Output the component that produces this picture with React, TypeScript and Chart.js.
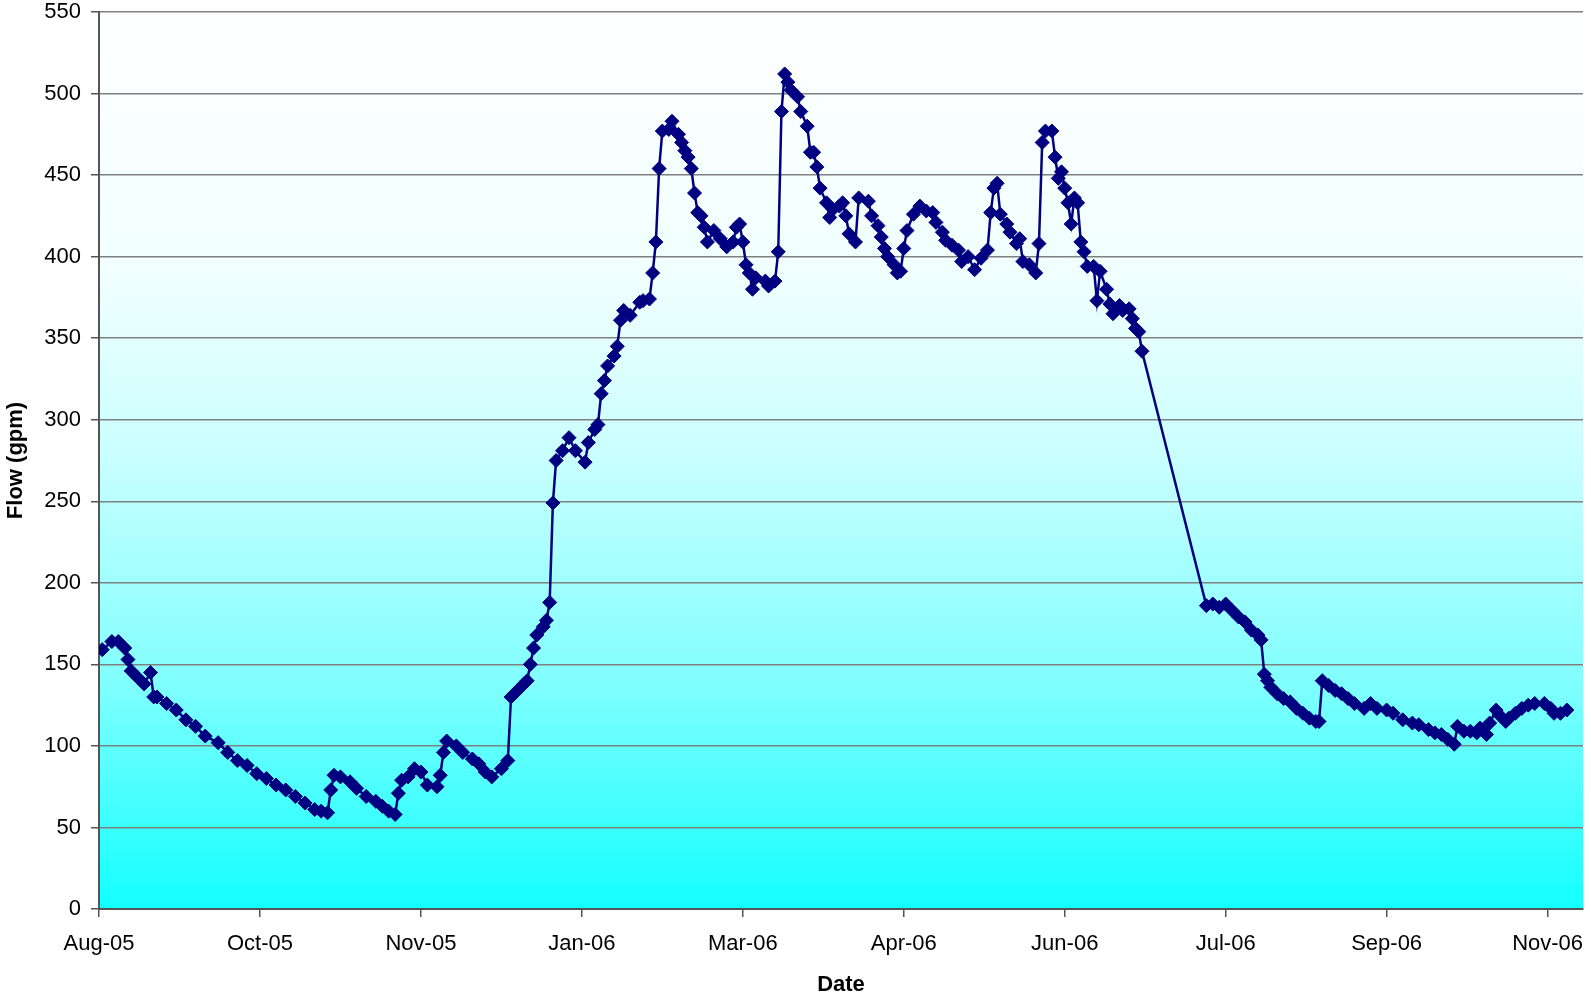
import React, { useEffect, useRef } from "react";
import { Chart, registerables } from "chart.js";

Chart.register(...registerables);

// Day offsets counted from 14-Aug-2005 (the left edge of the date axis)
const days: number[] = [
  1, 4, 6, 8, 9, 10, 12, 14, 16, 17, 18, 21, 24, 27, 30, 33, 37, 40, 43, 46,
  49, 52, 55, 58, 61, 64, 67, 69, 71, 72, 73, 75, 78, 80, 83, 86, 88, 90, 92, 93,
  94, 96, 98, 100, 102, 105, 106, 107, 108, 111, 113, 116, 118, 120, 122, 125, 127, 128, 130, 132,
  133, 134, 135, 136, 138, 139, 140, 141, 142, 144, 146, 148, 151, 152, 154, 155, 156, 157, 158, 160,
  161, 162, 163, 165, 168, 169, 171, 172, 173, 174, 175, 177, 178, 180, 181, 182, 183, 184, 185, 186,
  187, 188, 189, 191, 193, 195, 197, 198, 199, 200, 201, 202, 203, 204, 207, 208, 210, 211, 212, 213,
  214, 215, 217, 218, 220, 221, 222, 223, 224, 226, 227, 228, 230, 231, 232, 233, 235, 236, 239, 240,
  242, 243, 244, 245, 247, 248, 249, 250, 251, 253, 255, 257, 259, 260, 262, 263, 265, 267, 268, 270,
  272, 274, 276, 277, 278, 279, 280, 282, 283, 285, 286, 287, 289, 291, 292, 293, 294, 296, 297, 298,
  299, 300, 301, 302, 303, 304, 305, 306, 307, 309, 310, 311, 313, 314, 315, 317, 318, 320, 321, 322,
  323, 324, 344, 346, 348, 350, 352, 354, 356, 358, 360, 361, 362, 363, 364, 366, 368, 370, 372, 374,
  376, 378, 379, 380, 382, 384, 386, 388, 390, 393, 395, 397, 400, 402, 405, 408, 410, 413, 415, 417,
  419, 421, 422, 424, 426, 428, 429, 431, 432, 434, 435, 437, 438, 440, 442, 444, 446, 449, 451, 452,
  454, 456,
];

// Flow in gpm, one value per entry of `days`
const flow: number[] = [
  159, 164, 164, 160, 153, 146, 142, 138, 145, 130, 130, 126, 122, 116, 112, 106, 102, 96, 91, 88,
  83, 80, 76, 73, 69, 65, 61, 60, 59, 73, 82, 81, 78, 74, 69, 66, 63, 60, 58, 71,
  79, 81, 86, 84, 76, 75, 82, 96, 103, 100, 96, 92, 89, 84, 81, 86, 91, 130, 134, 138,
  140, 150, 160, 168, 173, 177, 188, 249, 275, 281, 289, 281, 274, 286, 294, 297, 316, 324, 333, 339,
  345, 361, 367, 364, 372, 373, 374, 390, 409, 454, 477, 478, 483, 475, 470, 465, 461, 454, 439, 427,
  425, 418, 409, 416, 411, 406, 409, 418, 420, 409, 395, 390, 380, 387, 385, 382, 385, 403, 489, 512,
  507, 502, 498, 489, 480, 464, 464, 455, 442, 433, 424, 429, 431, 433, 425, 414, 409, 436, 434, 425,
  419, 412, 405, 400, 395, 390, 391, 405, 416, 426, 431, 428, 427, 421, 415, 410, 407, 404, 397, 400,
  392, 399, 404, 427, 442, 445, 426, 420, 415, 408, 411, 397, 395, 390, 408, 470, 477, 477, 461, 448,
  452, 442, 433, 420, 436, 433, 409, 403, 394, 394, 373, 391, 380, 371, 365, 370, 367, 368, 362, 356,
  354, 342, 186, 187, 185, 187, 183, 179, 176, 171, 168, 165, 144, 140, 136, 132, 129, 127, 123, 120,
  117, 115, 115, 140, 137, 134, 132, 129, 126, 123, 126, 123, 122, 120, 116, 114, 113, 110, 108, 107,
  104, 101, 112, 109, 109, 108, 111, 107, 114, 122, 119, 115, 117, 120, 123, 125, 126, 126, 123, 120,
  120, 122,
];

const xTickDays: number[] = [0, 50, 100, 150, 200, 250, 300, 350, 400, 450];
const xTickLabels: string[] = [
  "Aug-05", "Oct-05", "Nov-05", "Jan-06", "Mar-06",
  "Apr-06", "Jun-06", "Jul-06", "Sep-06", "Nov-06",
];
const xMaxDay = 461;
const yMax = 550;
const yStep = 50;

const FONT = "'Liberation Sans', Arial, sans-serif";

const bgPlugin = {
  id: "plotGradient",
  beforeDraw(chart: any) {
    const { ctx, chartArea } = chart;
    if (!chartArea) return;
    const g = ctx.createLinearGradient(0, chartArea.top, 0, chartArea.bottom);
    g.addColorStop(0, "#ffffff");
    g.addColorStop(0.3, "#f0ffff");
    g.addColorStop(0.5, "#c8ffff");
    g.addColorStop(0.75, "#80ffff");
    g.addColorStop(1, "#12ffff");
    ctx.save();
    ctx.fillStyle = g;
    ctx.fillRect(chartArea.left, chartArea.top, chartArea.right - chartArea.left, chartArea.bottom - chartArea.top);
    ctx.restore();
  },
};

export default function App() {
  const ref = useRef<HTMLCanvasElement | null>(null);

  useEffect(() => {
    document.body.style.margin = "0";
    const canvas = ref.current;
    if (!canvas) return;
    const points = days.map((d, i) => ({ x: d, y: flow[i] }));
    const chart = new Chart(canvas, {
      type: "line",
      data: {
        datasets: [
          {
            label: "Flow",
            data: points,
            borderColor: "#000080",
            backgroundColor: "#000080",
            borderWidth: 2.5,
            pointStyle: "rectRot",
            pointRadius: 7,
            pointBorderWidth: 1,
            pointBorderColor: "#000080",
            pointBackgroundColor: "#000080",
            tension: 0,
            fill: false,
          },
        ],
      },
      options: {
        animation: false,
        responsive: false,
        devicePixelRatio: 1,
        layout: { padding: { top: 12, right: 2, left: 0, bottom: 0 } },
        plugins: {
          legend: { display: false },
          tooltip: { enabled: false },
        },
        scales: {
          x: {
            type: "linear",
            min: 0,
            max: xMaxDay,
            afterBuildTicks: (scale: any) => {
              scale.ticks = xTickDays.map((v) => ({ value: v }));
            },
            afterFit: (scale: any) => {
              scale.height = 91;
              scale.paddingLeft = 0;
              scale.paddingRight = 0;
            },
            ticks: {
              autoSkip: false,
              maxRotation: 0,
              padding: 14,
              color: "#000000",
              font: { family: FONT, size: 22 },
              callback: (_v: any, i: number) => xTickLabels[i],
            },
            grid: {
              drawOnChartArea: false,
              drawTicks: true,
              tickLength: 8,
              tickColor: "#555555",
              lineWidth: 1.5,
            },
            border: { display: true, color: "#555555", width: 2 },
            title: {
              display: true,
              text: "Date",
              color: "#000000",
              font: { family: FONT, size: 22, weight: "bold" },
              padding: { top: 0, bottom: 2 },
            },
          },
          y: {
            type: "linear",
            min: 0,
            max: yMax,
            afterFit: (scale: any) => {
              scale.width = 99;
              scale.paddingTop = 0;
              scale.paddingBottom = 0;
            },
            ticks: {
              stepSize: yStep,
              padding: 10,
              color: "#000000",
              font: { family: FONT, size: 22 },
            },
            grid: {
              color: "#808080",
              lineWidth: 1.5,
              drawTicks: true,
              tickLength: 8,
              tickColor: "#555555",
            },
            border: { display: true, color: "#555555", width: 2 },
            title: {
              display: true,
              text: "Flow (gpm)",
              color: "#000000",
              font: { family: FONT, size: 22, weight: "bold" },
              padding: { top: 3, bottom: 0 },
            },
          },
        },
      },
      plugins: [bgPlugin],
    });
    return () => chart.destroy();
  }, []);

  return (
    <div style={{ position: "fixed", left: 0, top: 0, width: 1591, height: 1000, background: "#ffffff" }}>
      <canvas ref={ref} width={1591} height={1000} style={{ display: "block" }} />
    </div>
  );
}
